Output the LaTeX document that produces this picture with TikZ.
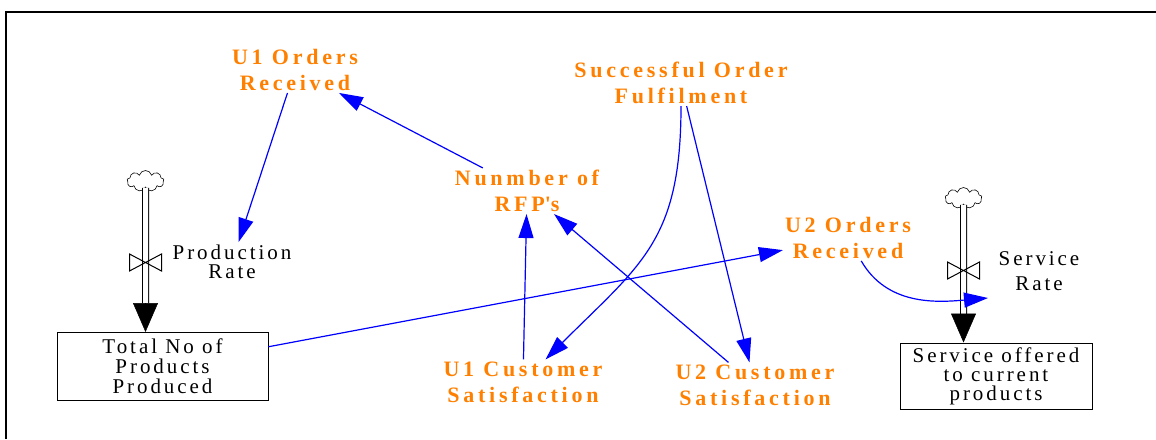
\documentclass[tikz,border=0pt]{standalone}
\usepackage{fontspec}
\setmainfont{Liberation Serif}
\newfontfamily\varfont[LetterSpace=17]{Liberation Serif}
\newfontfamily\levelfont[LetterSpace=14]{Liberation Serif}
\usetikzlibrary{arrows.meta, shapes.symbols}
\definecolor{varorange}{RGB}{255,128,0}
\definecolor{linkblue}{RGB}{0,0,255}

\begin{document}
\begin{tikzpicture}[x=1pt, y=1pt,
      var/.style={text=varorange, align=center, inner sep=2pt,
        font=\varfont\bfseries\fontsize{22}{26}\selectfont},
      rate/.style={align=center, inner sep=3pt,
        font=\levelfont\fontsize{21}{18.5}\selectfont},
      level/.style={rectangle, draw, line width=1pt, minimum width=211pt,
        minimum height=68pt, align=center, inner sep=0pt,
        font=\levelfont\fontsize{21}{20}\selectfont},
      source/.style={cloud, cloud puffs=9, aspect=1.8, draw, line width=0.6pt,
        minimum width=37pt, minimum height=21pt, inner sep=0pt},
      pipe/.style={double distance=5pt, line width=1pt},
      flowhead/.style={-{Triangle[length=29pt,width=25pt]}, line width=0.5pt},
      valve/.style={line width=1pt, line join=miter},
      link/.style={linkblue, line width=1.2pt, -{Triangle[length=24pt,width=15pt]}}
    ]
      \useasboundingbox (0,0) rectangle (1156,-439);
      \draw[line width=2.8pt] (6,-439) -- (6,-12) -- (1156,-12);

      \node[var] (u1ord) at (295,-70) {U1 Orders\\Received};
      \node[var] (sof) at (681,-83) {Successful Order\\Fulfilment};
      \node[var] (rfp) at (527,-191) {Nunmber of\\RFP\textquotesingle s};
      \node[var] (u2ord) at (848,-238) {U2 Orders\\Received};
      \node[var] (u1cs) at (523,-382) {U1 Customer\\Satisfaction};
      \node[var] (u2cs) at (755,-385) {U2 Customer\\Satisfaction};

      \node[rate] (prate) at (232,-262) {Production\\Rate};
      \node[rate, font=\levelfont\fontsize{21}{25}\selectfont] (srate)
        at (1039,-271) {Service\\Rate};

      \node[level] (totprod) at (162.5,-366.5) {Total No of\\Products\\Produced};
      \node[level, minimum width=192pt, minimum height=66pt,
        font=\levelfont\fontsize{21}{19}\selectfont] (servoff)
        at (996,-376) {Service offered\\to current\\products};

      % production flow
      \node[source] (pcloud) at (145.5,-181) {};
      \coordinate (pbase) at (145.5,-303);
      \coordinate (pvalve) at (145.5,-262.5);
      \draw[pipe] (pcloud) -- (pbase);
      \draw[flowhead] (pbase) -- (pbase |- totprod.north);
      \draw[valve, shift={(pvalve)}] (-16,8.5) -- (16,-8.5) -- (16,8.5) -- (-16,-8.5) -- cycle;

      % service flow
      \node[source] (scloud) at (963.5,-198) {};
      \coordinate (sbase) at (963.5,-314);
      \coordinate (svalve) at (963.5,-270.5);
      \draw[pipe] (scloud) -- (sbase);
      \draw[flowhead] (sbase) -- (sbase |- servoff.north);
      \draw[valve, shift={(svalve)}] (-16,8.5) -- (16,-8.5) -- (16,8.5) -- (-16,-8.5) -- cycle;
      \coordinate (srvin) at (988,-298);

      \draw[link] (u1ord) -- (prate);
      \draw[link] (rfp) -- (u1ord);
      \draw[link] (u1cs) -- (rfp);
      \draw[link] (u2cs) -- (rfp);
      \draw[link] (sof) to[out=-90, in=45, looseness=1.2] (u1cs);
      \draw[link] (sof) -- (u2cs);
      \draw[link] (totprod) -- (u2ord);
      \draw[link] (u2ord) to[out=-60, in=185] (srvin);
    \end{tikzpicture}
\end{document}
